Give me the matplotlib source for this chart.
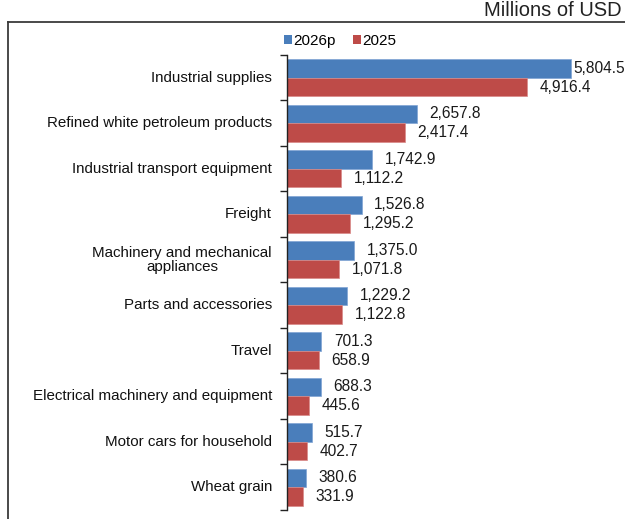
import matplotlib
matplotlib.use("Agg")
import matplotlib.pyplot as plt
from matplotlib.lines import Line2D
from matplotlib.patches import Patch

plt.rcParams['font.family'] = ['Liberation Sans', 'DejaVu Sans']

categories = [
    "Industrial supplies",
    "Refined white petroleum products",
    "Industrial transport equipment",
    "Freight",
    "Machinery and mechanical\nappliances",
    "Parts and accessories",
    "Travel",
    "Electrical machinery and equipment",
    "Motor cars for household",
    "Wheat grain",
]
values_2026p = [5804.5, 2657.8, 1742.9, 1526.8, 1375.0, 1229.2, 701.3, 688.3, 515.7, 380.6]
values_2025 = [4916.4, 2417.4, 1112.2, 1295.2, 1071.8, 1122.8, 658.9, 445.6, 402.7, 331.9]
series_names = ["2026p", "2025"]
unit_label = "Millions of USD"

BLUE = "#4A7EBB"
RED = "#BE4B48"

W, H = 625, 519
fig = plt.figure(figsize=(W / 100, H / 100), dpi=100)

# outer chart frame (top and left edges visible)
fig.add_artist(Line2D([8 / W, 1.0], [1 - 22 / H, 1 - 22 / H], color="#3a3a3a", lw=1.3, transform=fig.transFigure))
fig.add_artist(Line2D([8 / W, 8 / W], [1 - 22 / H, 0], color="#3a3a3a", lw=1.3, transform=fig.transFigure))

fig.text(622 / W, 1 - 11 / H, unit_label, ha="right", va="center", fontsize=14.5, color="#222222")

ax = fig.add_axes([287 / W, 1 - 510 / H, 1 - 287 / W, (510 - 55) / H])
n = len(categories)
ys = list(range(n))
bh = 0.41
ax.barh([y - bh / 2 for y in ys], values_2026p, height=bh, color=BLUE, edgecolor="#7fa3d4", linewidth=0.5)
ax.barh([y + bh / 2 for y in ys], values_2025, height=bh, color=RED, edgecolor="#d98a88", linewidth=0.5)

ax.set_xlim(0, 6912)
ax.set_ylim(n - 0.5, -0.5)
for s in ["top", "right", "bottom"]:
    ax.spines[s].set_visible(False)
ax.spines["left"].set_color("#222222")
ax.spines["left"].set_linewidth(1.0)
ax.set_xticks([])
ax.set_yticks([y - 0.5 for y in range(n + 1)])
ax.set_yticklabels([])
ax.tick_params(axis="y", length=5, width=1.0, color="#222222")

fig.canvas.draw()
renderer = fig.canvas.get_renderer()

# category labels, right edge at a fixed pixel column; wrapped lines centred
label_right = 272
for y, name in zip(ys, categories):
    ax.annotate(name, xy=(0, y), xytext=(-(287 - label_right) * 0.72, 0), textcoords="offset points",
                ha="right", va="center", multialignment="center", fontsize=10.9,
                color="#111111", linespacing=1.0, annotation_clip=False)

right_px = W - 2
for vals, off in ((values_2026p, -bh / 2), (values_2025, bh / 2)):
    for y, v in zip(ys, vals):
        t = ax.annotate(f"{v:,.1f}", xy=(v, y + off), xytext=(9, 0), textcoords="offset points",
                        ha="left", va="center", fontsize=11.2, color="#1a1a1a", annotation_clip=False)
        bb = t.get_window_extent(renderer)
        if bb.x1 > right_px:
            shift = max(1.5, 9 - (bb.x1 - right_px) * 0.72)
            t.set_position((shift, 0))

# legend
handles = [Patch(facecolor=BLUE), Patch(facecolor=RED)]
fig.legend(handles, series_names, loc="center left", bbox_to_anchor=(276 / W, 1 - 41 / H), ncol=2,
           frameon=False, fontsize=11, handlelength=0.55, handleheight=0.55, handletextpad=0.1,
           columnspacing=1.1, borderpad=0)

fig.savefig("out.png", dpi=100)
